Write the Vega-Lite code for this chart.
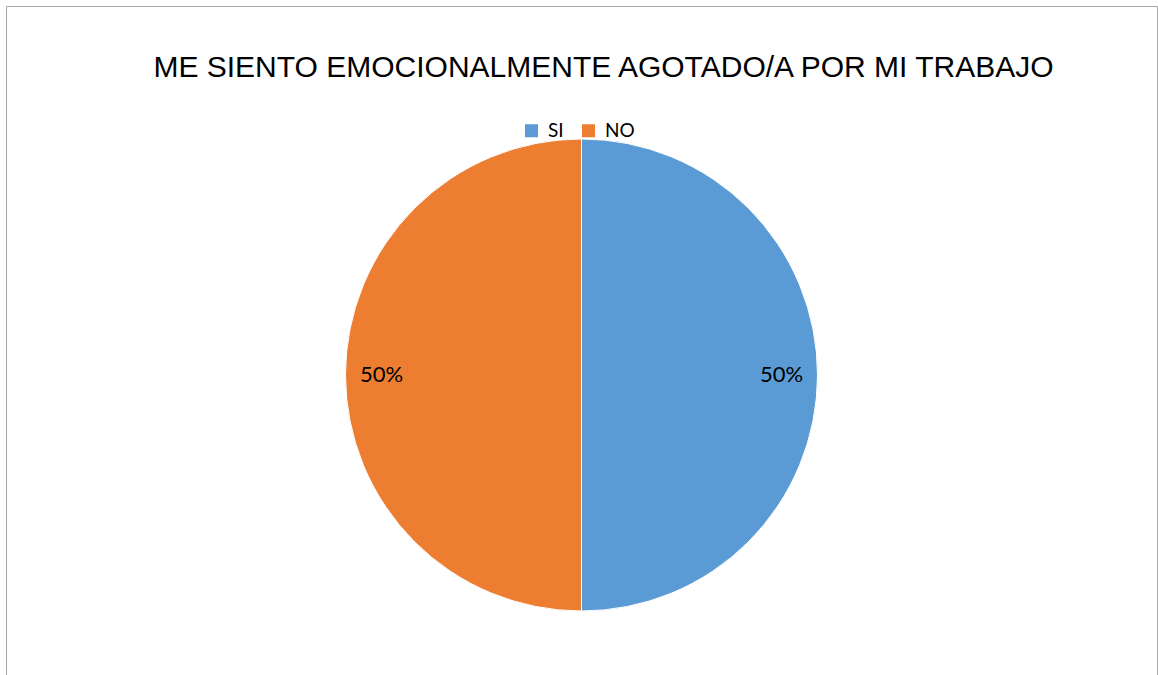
{
  "$schema": "https://vega.github.io/schema/vega-lite/v6.json",
  "autosize": {"type": "fit", "contains": "padding"},
  "width": 1158,
  "height": 675,
  "padding": {"left": 6, "top": 6, "right": 1, "bottom": -69},
  "background": "white",
  "view": {"stroke": "#a6a6a6", "strokeWidth": 1, "fill": "white"},
  "config": {"view": {"stroke": "#a6a6a6", "strokeWidth": 1}},
  "title": {
    "text": "ME SIENTO EMOCIONALMENTE AGOTADO/A POR MI TRABAJO",
    "font": "Liberation Sans",
    "fontSize": 30,
    "fontWeight": "normal",
    "color": "#000000",
    "frame": "group",
    "anchor": "middle",
    "baseline": "alphabetic",
    "offset": -101,
    "dx": 22
  },
  "data": {
    "values": [
      {"respuesta": "SI", "porcentaje": 0.5, "orden": 1},
      {"respuesta": "NO", "porcentaje": 0.5, "orden": 2}
    ]
  },
  "encoding": {
    "theta": {"field": "porcentaje", "type": "quantitative", "stack": true},
    "order": {"field": "orden", "type": "quantitative"}
  },
  "layer": [
    {
      "mark": {"type": "arc", "outerRadius": 236, "stroke": "white", "strokeWidth": 1},
      "encoding": {
        "color": {
          "field": "respuesta",
          "type": "nominal",
          "sort": ["SI", "NO"],
          "scale": {"domain": ["SI", "NO"], "range": ["#5B9BD5", "#ED7D31"]},
          "legend": {
            "title": null,
            "orient": "none",
            "direction": "horizontal",
            "legendX": 516,
            "legendY": 115,
            "padding": 0,
            "symbolType": "square",
            "symbolSize": 169,
            "symbolStrokeWidth": 0,
            "labelFont": "Lato",
            "labelFontSize": 19,
            "labelColor": "#000000",
            "labelOffset": 7,
            "columnPadding": 15
          }
        }
      }
    },
    {
      "mark": {"type": "text", "radius": 200, "font": "Lato", "fontSize": 22, "color": "#000000"},
      "encoding": {
        "text": {"field": "porcentaje", "type": "quantitative", "format": ".0%"}
      }
    }
  ]
}
